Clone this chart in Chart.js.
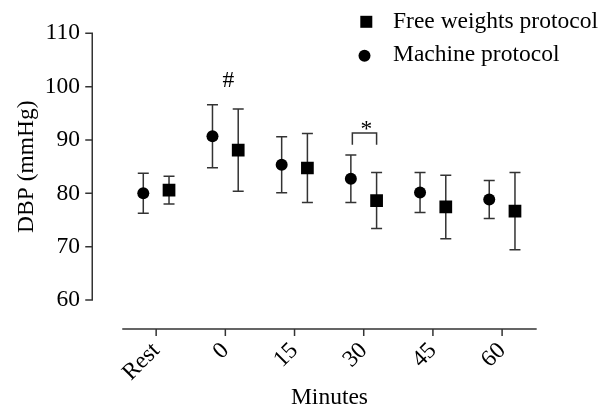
<!DOCTYPE html>
<html>
<head>
<meta charset="utf-8">
<script src="https://cdn.jsdelivr.net/npm/chart.js@4.4.1/dist/chart.umd.min.js"></script>
<style>
  html, body { margin: 0; padding: 0; background: #fff; }
</style>
</head>
<body>
<canvas id="chartDBP" width="607" height="408"></canvas>
<script>
// Data
const minutes = ["Rest", "0", "15", "30", "45", "60"];
const yTicks = [60, 70, 80, 90, 100, 110];
const machineMean = [80.0, 90.7, 85.35, 82.75, 80.15, 78.85];
const machineSD = [3.75, 5.9, 5.25, 4.45, 3.75, 3.55];
const freeMean = [80.6, 88.1, 84.75, 78.65, 77.45, 76.65];
const freeSD = [2.6, 7.7, 6.45, 5.25, 5.95, 7.25];
const seriesNames = ["Free weights protocol", "Machine protocol"];
// annotations: "#" over group 0 min, "*" bracket over group 30 min
const hashGroup = 1, hashValue = 100;
const starGroup = 3, starLow = 89.1, starHigh = 91.3;

const serif = "'Liberation Serif', 'Times New Roman', serif";
const fontSize = 23.5;
const dodge = 0.186;
const cap = 5.5;
const ink = "#333";
const clear = "rgba(0,0,0,0)";

Chart.defaults.font.family = serif;
Chart.defaults.font.size = fontSize;
Chart.defaults.color = "#000";

// error bars, axes, legend and marks
const extras = {
  id: "extras",
  beforeDatasetsDraw(chart) {
    const { ctx, scales: { x, y } } = chart;
    ctx.save();
    ctx.strokeStyle = ink;
    ctx.lineWidth = 1.5;
    function bars(means, sds, shift) {
      means.forEach((m, i) => {
        const px = x.getPixelForValue(i + shift);
        const top = y.getPixelForValue(m + sds[i]);
        const bot = y.getPixelForValue(m - sds[i]);
        ctx.beginPath();
        ctx.moveTo(px, top); ctx.lineTo(px, bot);
        ctx.moveTo(px - cap, top); ctx.lineTo(px + cap, top);
        ctx.moveTo(px - cap, bot); ctx.lineTo(px + cap, bot);
        ctx.stroke();
      });
    }
    bars(machineMean, machineSD, -dodge);
    bars(freeMean, freeSD, dodge);
    ctx.restore();
  },
  afterDraw(chart) {
    const { ctx, chartArea, scales: { x, y } } = chart;
    ctx.save();
    ctx.strokeStyle = ink;
    ctx.lineWidth = 1.5;

    // y axis, set apart from the plot
    const ax = chartArea.left - 30;
    ctx.beginPath();
    ctx.moveTo(ax, y.getPixelForValue(yTicks[0]) + 0.75);
    ctx.lineTo(ax, y.getPixelForValue(yTicks[yTicks.length - 1]) - 0.75);
    yTicks.forEach(v => {
      const py = y.getPixelForValue(v);
      ctx.moveTo(ax - 7, py); ctx.lineTo(ax, py);
    });
    ctx.stroke();

    // x axis, below the plot
    const ay = chartArea.bottom + 29;
    ctx.beginPath();
    ctx.moveTo(chartArea.left, ay); ctx.lineTo(chartArea.right, ay);
    minutes.forEach((_, i) => {
      const px = x.getPixelForValue(i);
      ctx.moveTo(px, ay); ctx.lineTo(px, ay + 7);
    });
    ctx.stroke();

    // legend
    ctx.fillStyle = "#000";
    ctx.fillRect(360.3, 15.8, 12, 12);
    ctx.beginPath();
    ctx.arc(364.5, 55.8, 6, 0, Math.PI * 2);
    ctx.fill();
    ctx.font = fontSize + "px " + serif;
    ctx.textAlign = "left";
    ctx.textBaseline = "alphabetic";
    ctx.fillText(seriesNames[0], 393, 28.3);
    ctx.fillText(seriesNames[1], 393, 61);

    // significance marks
    ctx.textAlign = "center";
    ctx.fillText("#", x.getPixelForValue(hashGroup) + 3, y.getPixelForValue(hashValue));
    const bl = x.getPixelForValue(starGroup - dodge) + 1.5;
    const br = x.getPixelForValue(starGroup + dodge);
    const bt = y.getPixelForValue(starHigh);
    const bb = y.getPixelForValue(starLow);
    ctx.beginPath();
    ctx.moveTo(bl, bb); ctx.lineTo(bl, bt); ctx.lineTo(br, bt); ctx.lineTo(br, bb);
    ctx.stroke();
    ctx.fillText("*", (bl + br) / 2 + 2, bt + 3);
    ctx.restore();
  }
};

const ctx = document.getElementById("chartDBP");
new Chart(ctx, {
  type: "scatter",
  data: {
    datasets: [
      {
        label: seriesNames[0],
        data: freeMean.map((v, i) => ({ x: i + dodge, y: v })),
        pointStyle: "rect",
        pointRadius: 9,
        pointHoverRadius: 9,
        backgroundColor: "#000",
        borderWidth: 0
      },
      {
        label: seriesNames[1],
        data: machineMean.map((v, i) => ({ x: i - dodge, y: v })),
        pointStyle: "circle",
        pointRadius: 6,
        pointHoverRadius: 6,
        backgroundColor: "#000",
        borderWidth: 0
      }
    ]
  },
  options: {
    responsive: false,
    animation: false,
    layout: { padding: { left: 8.5, right: 70.3, top: 33.3, bottom: -2 } },
    plugins: { legend: { display: false }, tooltip: { enabled: false } },
    scales: {
      x: {
        type: "linear",
        min: -0.49,
        max: 5.5,
        afterBuildTicks: s => { s.ticks = minutes.map((_, i) => ({ value: i })); },
        ticks: {
          autoSkip: false,
          minRotation: 45,
          maxRotation: 45,
          padding: 0,
          callback: v => minutes[v]
        },
        // invisible tick marks only reserve the gap below the plot
        grid: { display: true, drawOnChartArea: false, drawTicks: true, tickLength: 37, color: clear },
        border: { display: false },
        title: { display: true, text: "Minutes", padding: 0, font: { size: fontSize, lineHeight: 1 } }
      },
      y: {
        min: 60,
        max: 110,
        afterBuildTicks: s => { s.ticks = yTicks.map(v => ({ value: v })); },
        ticks: { padding: 0 },
        grid: { display: true, drawOnChartArea: false, drawTicks: true, tickLength: 42.3, color: clear },
        border: { display: false },
        title: { display: true, text: "DBP (mmHg)", padding: { top: 4, bottom: 4 } }
      }
    }
  },
  plugins: [extras]
});
</script>
</body>
</html>
